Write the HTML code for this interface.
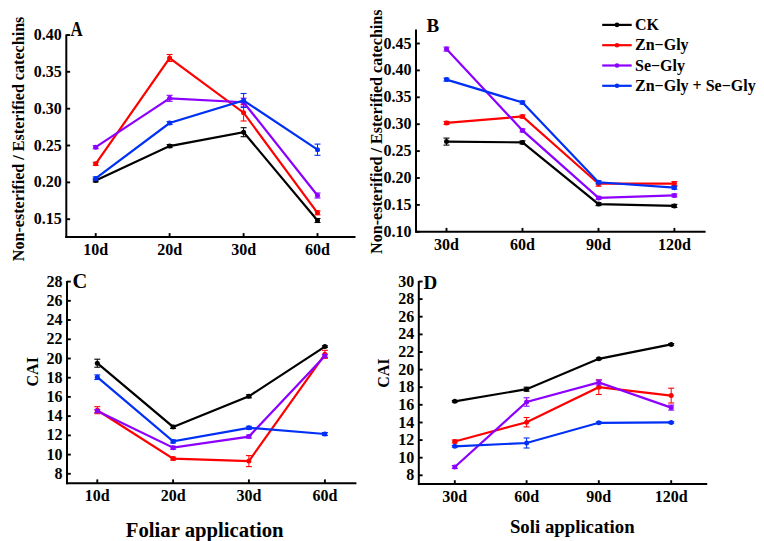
<!DOCTYPE html>
<html><head><meta charset="utf-8"><style>
html,body{margin:0;padding:0;background:#fff;width:764px;height:541px;overflow:hidden}
svg{display:block}
text{font-family:"Liberation Serif",serif;font-weight:bold;fill:#000}
.t{font-size:16px}
.L{font-size:19px}
.g{font-size:16px}
.y{font-size:16px}
.x{font-size:20px}
</style></head><body>
<svg width="764" height="541" viewBox="0 0 764 541">
<line x1="66.3" y1="34.5" x2="66.3" y2="238.0" stroke="#000" stroke-width="2.0"/>
<line x1="65.3" y1="237.0" x2="355.5" y2="237.0" stroke="#000" stroke-width="2.0"/>
<line x1="66.3" y1="35.0" x2="70.1" y2="35.0" stroke="#000" stroke-width="1.9"/>
<text x="61.8" y="40.0" text-anchor="end" class="t">0.40</text>
<line x1="66.3" y1="71.8" x2="70.1" y2="71.8" stroke="#000" stroke-width="1.9"/>
<text x="61.8" y="76.8" text-anchor="end" class="t">0.35</text>
<line x1="66.3" y1="108.7" x2="70.1" y2="108.7" stroke="#000" stroke-width="1.9"/>
<text x="61.8" y="113.7" text-anchor="end" class="t">0.30</text>
<line x1="66.3" y1="145.5" x2="70.1" y2="145.5" stroke="#000" stroke-width="1.9"/>
<text x="61.8" y="150.5" text-anchor="end" class="t">0.25</text>
<line x1="66.3" y1="182.4" x2="70.1" y2="182.4" stroke="#000" stroke-width="1.9"/>
<text x="61.8" y="187.4" text-anchor="end" class="t">0.20</text>
<line x1="66.3" y1="219.2" x2="70.1" y2="219.2" stroke="#000" stroke-width="1.9"/>
<text x="61.8" y="224.2" text-anchor="end" class="t">0.15</text>
<line x1="95.7" y1="237.0" x2="95.7" y2="233.1" stroke="#000" stroke-width="1.9"/>
<text x="95.7" y="255.0" text-anchor="middle" class="t">10d</text>
<line x1="169.6" y1="237.0" x2="169.6" y2="233.1" stroke="#000" stroke-width="1.9"/>
<text x="169.6" y="255.0" text-anchor="middle" class="t">20d</text>
<line x1="243.6" y1="237.0" x2="243.6" y2="233.1" stroke="#000" stroke-width="1.9"/>
<text x="243.6" y="255.0" text-anchor="middle" class="t">30d</text>
<line x1="317.5" y1="237.0" x2="317.5" y2="233.1" stroke="#000" stroke-width="1.9"/>
<text x="317.5" y="255.0" text-anchor="middle" class="t">60d</text>
<text transform="translate(70.5,35.9) scale(0.835,1)" class="L" style="font-size:20.2px">A</text>
<polyline points="95.7,180.4 169.6,146.1 243.6,132.2 317.5,220.5" fill="none" stroke="#000000" stroke-width="2.2" stroke-linejoin="miter"/>
<line x1="95.7" y1="178.9" x2="95.7" y2="181.9" stroke="#000000" stroke-width="1"/>
<line x1="92.7" y1="178.9" x2="98.7" y2="178.9" stroke="#000000" stroke-width="1.1"/>
<line x1="92.7" y1="181.9" x2="98.7" y2="181.9" stroke="#000000" stroke-width="1.1"/>
<circle cx="95.7" cy="180.4" r="2.5" fill="#000000"/>
<line x1="169.6" y1="144.6" x2="169.6" y2="147.6" stroke="#000000" stroke-width="1"/>
<line x1="166.6" y1="144.6" x2="172.6" y2="144.6" stroke="#000000" stroke-width="1.1"/>
<line x1="166.6" y1="147.6" x2="172.6" y2="147.6" stroke="#000000" stroke-width="1.1"/>
<circle cx="169.6" cy="146.1" r="2.5" fill="#000000"/>
<line x1="243.6" y1="127.7" x2="243.6" y2="136.7" stroke="#000000" stroke-width="1"/>
<line x1="240.6" y1="127.7" x2="246.6" y2="127.7" stroke="#000000" stroke-width="1.1"/>
<line x1="240.6" y1="136.7" x2="246.6" y2="136.7" stroke="#000000" stroke-width="1.1"/>
<circle cx="243.6" cy="132.2" r="2.5" fill="#000000"/>
<line x1="317.5" y1="218.5" x2="317.5" y2="222.5" stroke="#000000" stroke-width="1"/>
<line x1="314.5" y1="218.5" x2="320.5" y2="218.5" stroke="#000000" stroke-width="1.1"/>
<line x1="314.5" y1="222.5" x2="320.5" y2="222.5" stroke="#000000" stroke-width="1.1"/>
<circle cx="317.5" cy="220.5" r="2.5" fill="#000000"/>
<polyline points="95.7,163.8 169.6,58.0 243.6,112.7 317.5,212.8" fill="none" stroke="#ff0000" stroke-width="2.2" stroke-linejoin="miter"/>
<line x1="95.7" y1="162.3" x2="95.7" y2="165.3" stroke="#ff0000" stroke-width="1"/>
<line x1="92.7" y1="162.3" x2="98.7" y2="162.3" stroke="#ff0000" stroke-width="1.1"/>
<line x1="92.7" y1="165.3" x2="98.7" y2="165.3" stroke="#ff0000" stroke-width="1.1"/>
<circle cx="95.7" cy="163.8" r="2.5" fill="#ff0000"/>
<line x1="169.6" y1="54.5" x2="169.6" y2="61.5" stroke="#ff0000" stroke-width="1"/>
<line x1="166.6" y1="54.5" x2="172.6" y2="54.5" stroke="#ff0000" stroke-width="1.1"/>
<line x1="166.6" y1="61.5" x2="172.6" y2="61.5" stroke="#ff0000" stroke-width="1.1"/>
<circle cx="169.6" cy="58.0" r="2.5" fill="#ff0000"/>
<line x1="243.6" y1="104.4" x2="243.6" y2="121.0" stroke="#ff0000" stroke-width="1"/>
<line x1="240.6" y1="104.4" x2="246.6" y2="104.4" stroke="#ff0000" stroke-width="1.1"/>
<line x1="240.6" y1="121.0" x2="246.6" y2="121.0" stroke="#ff0000" stroke-width="1.1"/>
<circle cx="243.6" cy="112.7" r="2.5" fill="#ff0000"/>
<line x1="317.5" y1="210.8" x2="317.5" y2="214.8" stroke="#ff0000" stroke-width="1"/>
<line x1="314.5" y1="210.8" x2="320.5" y2="210.8" stroke="#ff0000" stroke-width="1.1"/>
<line x1="314.5" y1="214.8" x2="320.5" y2="214.8" stroke="#ff0000" stroke-width="1.1"/>
<circle cx="317.5" cy="212.8" r="2.5" fill="#ff0000"/>
<polyline points="95.7,147.2 169.6,98.3 243.6,102.2 317.5,195.5" fill="none" stroke="#8c00ff" stroke-width="2.2" stroke-linejoin="miter"/>
<line x1="95.7" y1="145.7" x2="95.7" y2="148.7" stroke="#8c00ff" stroke-width="1"/>
<line x1="92.7" y1="145.7" x2="98.7" y2="145.7" stroke="#8c00ff" stroke-width="1.1"/>
<line x1="92.7" y1="148.7" x2="98.7" y2="148.7" stroke="#8c00ff" stroke-width="1.1"/>
<circle cx="95.7" cy="147.2" r="2.5" fill="#8c00ff"/>
<line x1="169.6" y1="95.3" x2="169.6" y2="101.3" stroke="#8c00ff" stroke-width="1"/>
<line x1="166.6" y1="95.3" x2="172.6" y2="95.3" stroke="#8c00ff" stroke-width="1.1"/>
<line x1="166.6" y1="101.3" x2="172.6" y2="101.3" stroke="#8c00ff" stroke-width="1.1"/>
<circle cx="169.6" cy="98.3" r="2.5" fill="#8c00ff"/>
<line x1="243.6" y1="98.2" x2="243.6" y2="106.2" stroke="#8c00ff" stroke-width="1"/>
<line x1="240.6" y1="98.2" x2="246.6" y2="98.2" stroke="#8c00ff" stroke-width="1.1"/>
<line x1="240.6" y1="106.2" x2="246.6" y2="106.2" stroke="#8c00ff" stroke-width="1.1"/>
<circle cx="243.6" cy="102.2" r="2.5" fill="#8c00ff"/>
<line x1="317.5" y1="193.0" x2="317.5" y2="198.0" stroke="#8c00ff" stroke-width="1"/>
<line x1="314.5" y1="193.0" x2="320.5" y2="193.0" stroke="#8c00ff" stroke-width="1.1"/>
<line x1="314.5" y1="198.0" x2="320.5" y2="198.0" stroke="#8c00ff" stroke-width="1.1"/>
<circle cx="317.5" cy="195.5" r="2.5" fill="#8c00ff"/>
<polyline points="95.7,178.4 169.6,123.0 243.6,100.5 317.5,149.7" fill="none" stroke="#0030f5" stroke-width="2.2" stroke-linejoin="miter"/>
<line x1="95.7" y1="176.9" x2="95.7" y2="179.9" stroke="#0030f5" stroke-width="1"/>
<line x1="92.7" y1="176.9" x2="98.7" y2="176.9" stroke="#0030f5" stroke-width="1.1"/>
<line x1="92.7" y1="179.9" x2="98.7" y2="179.9" stroke="#0030f5" stroke-width="1.1"/>
<circle cx="95.7" cy="178.4" r="2.5" fill="#0030f5"/>
<line x1="169.6" y1="121.5" x2="169.6" y2="124.5" stroke="#0030f5" stroke-width="1"/>
<line x1="166.6" y1="121.5" x2="172.6" y2="121.5" stroke="#0030f5" stroke-width="1.1"/>
<line x1="166.6" y1="124.5" x2="172.6" y2="124.5" stroke="#0030f5" stroke-width="1.1"/>
<circle cx="169.6" cy="123.0" r="2.5" fill="#0030f5"/>
<line x1="243.6" y1="93.5" x2="243.6" y2="107.5" stroke="#0030f5" stroke-width="1"/>
<line x1="240.6" y1="93.5" x2="246.6" y2="93.5" stroke="#0030f5" stroke-width="1.1"/>
<line x1="240.6" y1="107.5" x2="246.6" y2="107.5" stroke="#0030f5" stroke-width="1.1"/>
<circle cx="243.6" cy="100.5" r="2.5" fill="#0030f5"/>
<line x1="317.5" y1="144.1" x2="317.5" y2="155.3" stroke="#0030f5" stroke-width="1"/>
<line x1="314.5" y1="144.1" x2="320.5" y2="144.1" stroke="#0030f5" stroke-width="1.1"/>
<line x1="314.5" y1="155.3" x2="320.5" y2="155.3" stroke="#0030f5" stroke-width="1.1"/>
<circle cx="317.5" cy="149.7" r="2.5" fill="#0030f5"/>
<line x1="416.0" y1="29.5" x2="416.0" y2="232.8" stroke="#000" stroke-width="2.0"/>
<line x1="415.5" y1="231.8" x2="705.6" y2="231.8" stroke="#000" stroke-width="2.0"/>
<line x1="416.0" y1="43.5" x2="419.8" y2="43.5" stroke="#000" stroke-width="1.9"/>
<text x="411.5" y="48.5" text-anchor="end" class="t">0.45</text>
<line x1="416.0" y1="70.4" x2="419.8" y2="70.4" stroke="#000" stroke-width="1.9"/>
<text x="411.5" y="75.4" text-anchor="end" class="t">0.40</text>
<line x1="416.0" y1="97.3" x2="419.8" y2="97.3" stroke="#000" stroke-width="1.9"/>
<text x="411.5" y="102.3" text-anchor="end" class="t">0.35</text>
<line x1="416.0" y1="124.2" x2="419.8" y2="124.2" stroke="#000" stroke-width="1.9"/>
<text x="411.5" y="129.2" text-anchor="end" class="t">0.30</text>
<line x1="416.0" y1="151.1" x2="419.8" y2="151.1" stroke="#000" stroke-width="1.9"/>
<text x="411.5" y="156.1" text-anchor="end" class="t">0.25</text>
<line x1="416.0" y1="178.0" x2="419.8" y2="178.0" stroke="#000" stroke-width="1.9"/>
<text x="411.5" y="183.0" text-anchor="end" class="t">0.20</text>
<line x1="416.0" y1="204.9" x2="419.8" y2="204.9" stroke="#000" stroke-width="1.9"/>
<text x="411.5" y="209.9" text-anchor="end" class="t">0.15</text>
<line x1="416.0" y1="231.8" x2="419.8" y2="231.8" stroke="#000" stroke-width="1.9"/>
<text x="411.5" y="236.8" text-anchor="end" class="t">0.10</text>
<line x1="446.5" y1="231.8" x2="446.5" y2="227.9" stroke="#000" stroke-width="1.9"/>
<text x="446.5" y="249.8" text-anchor="middle" class="t">30d</text>
<line x1="522.5" y1="231.8" x2="522.5" y2="227.9" stroke="#000" stroke-width="1.9"/>
<text x="522.5" y="249.8" text-anchor="middle" class="t">60d</text>
<line x1="598.5" y1="231.8" x2="598.5" y2="227.9" stroke="#000" stroke-width="1.9"/>
<text x="598.5" y="249.8" text-anchor="middle" class="t">90d</text>
<line x1="674.4" y1="231.8" x2="674.4" y2="227.9" stroke="#000" stroke-width="1.9"/>
<text x="674.4" y="249.8" text-anchor="middle" class="t">120d</text>
<text x="426.5" y="32.0" class="L" style="">B</text>
<polyline points="446.5,141.6 522.5,142.4 598.5,204.1 674.4,205.9" fill="none" stroke="#000000" stroke-width="2.2" stroke-linejoin="miter"/>
<line x1="446.5" y1="138.1" x2="446.5" y2="145.1" stroke="#000000" stroke-width="1"/>
<line x1="443.5" y1="138.1" x2="449.5" y2="138.1" stroke="#000000" stroke-width="1.1"/>
<line x1="443.5" y1="145.1" x2="449.5" y2="145.1" stroke="#000000" stroke-width="1.1"/>
<circle cx="446.5" cy="141.6" r="2.5" fill="#000000"/>
<line x1="522.5" y1="140.9" x2="522.5" y2="143.9" stroke="#000000" stroke-width="1"/>
<line x1="519.5" y1="140.9" x2="525.5" y2="140.9" stroke="#000000" stroke-width="1.1"/>
<line x1="519.5" y1="143.9" x2="525.5" y2="143.9" stroke="#000000" stroke-width="1.1"/>
<circle cx="522.5" cy="142.4" r="2.5" fill="#000000"/>
<line x1="598.5" y1="202.6" x2="598.5" y2="205.6" stroke="#000000" stroke-width="1"/>
<line x1="595.5" y1="202.6" x2="601.5" y2="202.6" stroke="#000000" stroke-width="1.1"/>
<line x1="595.5" y1="205.6" x2="601.5" y2="205.6" stroke="#000000" stroke-width="1.1"/>
<circle cx="598.5" cy="204.1" r="2.5" fill="#000000"/>
<line x1="674.4" y1="204.4" x2="674.4" y2="207.4" stroke="#000000" stroke-width="1"/>
<line x1="671.4" y1="204.4" x2="677.4" y2="204.4" stroke="#000000" stroke-width="1.1"/>
<line x1="671.4" y1="207.4" x2="677.4" y2="207.4" stroke="#000000" stroke-width="1.1"/>
<circle cx="674.4" cy="205.9" r="2.5" fill="#000000"/>
<polyline points="446.5,122.9 522.5,116.5 598.5,183.7 674.4,183.6" fill="none" stroke="#ff0000" stroke-width="2.2" stroke-linejoin="miter"/>
<line x1="446.5" y1="121.4" x2="446.5" y2="124.4" stroke="#ff0000" stroke-width="1"/>
<line x1="443.5" y1="121.4" x2="449.5" y2="121.4" stroke="#ff0000" stroke-width="1.1"/>
<line x1="443.5" y1="124.4" x2="449.5" y2="124.4" stroke="#ff0000" stroke-width="1.1"/>
<circle cx="446.5" cy="122.9" r="2.5" fill="#ff0000"/>
<line x1="522.5" y1="115.0" x2="522.5" y2="118.0" stroke="#ff0000" stroke-width="1"/>
<line x1="519.5" y1="115.0" x2="525.5" y2="115.0" stroke="#ff0000" stroke-width="1.1"/>
<line x1="519.5" y1="118.0" x2="525.5" y2="118.0" stroke="#ff0000" stroke-width="1.1"/>
<circle cx="522.5" cy="116.5" r="2.5" fill="#ff0000"/>
<line x1="598.5" y1="181.2" x2="598.5" y2="186.2" stroke="#ff0000" stroke-width="1"/>
<line x1="595.5" y1="181.2" x2="601.5" y2="181.2" stroke="#ff0000" stroke-width="1.1"/>
<line x1="595.5" y1="186.2" x2="601.5" y2="186.2" stroke="#ff0000" stroke-width="1.1"/>
<circle cx="598.5" cy="183.7" r="2.5" fill="#ff0000"/>
<line x1="674.4" y1="181.6" x2="674.4" y2="185.6" stroke="#ff0000" stroke-width="1"/>
<line x1="671.4" y1="181.6" x2="677.4" y2="181.6" stroke="#ff0000" stroke-width="1.1"/>
<line x1="671.4" y1="185.6" x2="677.4" y2="185.6" stroke="#ff0000" stroke-width="1.1"/>
<circle cx="674.4" cy="183.6" r="2.5" fill="#ff0000"/>
<polyline points="446.5,49.1 522.5,130.4 598.5,197.9 674.4,195.4" fill="none" stroke="#8c00ff" stroke-width="2.2" stroke-linejoin="miter"/>
<line x1="446.5" y1="47.1" x2="446.5" y2="51.1" stroke="#8c00ff" stroke-width="1"/>
<line x1="443.5" y1="47.1" x2="449.5" y2="47.1" stroke="#8c00ff" stroke-width="1.1"/>
<line x1="443.5" y1="51.1" x2="449.5" y2="51.1" stroke="#8c00ff" stroke-width="1.1"/>
<circle cx="446.5" cy="49.1" r="2.5" fill="#8c00ff"/>
<line x1="522.5" y1="128.9" x2="522.5" y2="131.9" stroke="#8c00ff" stroke-width="1"/>
<line x1="519.5" y1="128.9" x2="525.5" y2="128.9" stroke="#8c00ff" stroke-width="1.1"/>
<line x1="519.5" y1="131.9" x2="525.5" y2="131.9" stroke="#8c00ff" stroke-width="1.1"/>
<circle cx="522.5" cy="130.4" r="2.5" fill="#8c00ff"/>
<line x1="598.5" y1="196.4" x2="598.5" y2="199.4" stroke="#8c00ff" stroke-width="1"/>
<line x1="595.5" y1="196.4" x2="601.5" y2="196.4" stroke="#8c00ff" stroke-width="1.1"/>
<line x1="595.5" y1="199.4" x2="601.5" y2="199.4" stroke="#8c00ff" stroke-width="1.1"/>
<circle cx="598.5" cy="197.9" r="2.5" fill="#8c00ff"/>
<line x1="674.4" y1="193.9" x2="674.4" y2="196.9" stroke="#8c00ff" stroke-width="1"/>
<line x1="671.4" y1="193.9" x2="677.4" y2="193.9" stroke="#8c00ff" stroke-width="1.1"/>
<line x1="671.4" y1="196.9" x2="677.4" y2="196.9" stroke="#8c00ff" stroke-width="1.1"/>
<circle cx="674.4" cy="195.4" r="2.5" fill="#8c00ff"/>
<polyline points="446.5,79.6 522.5,102.5 598.5,182.3 674.4,187.7" fill="none" stroke="#0030f5" stroke-width="2.2" stroke-linejoin="miter"/>
<line x1="446.5" y1="78.1" x2="446.5" y2="81.1" stroke="#0030f5" stroke-width="1"/>
<line x1="443.5" y1="78.1" x2="449.5" y2="78.1" stroke="#0030f5" stroke-width="1.1"/>
<line x1="443.5" y1="81.1" x2="449.5" y2="81.1" stroke="#0030f5" stroke-width="1.1"/>
<circle cx="446.5" cy="79.6" r="2.5" fill="#0030f5"/>
<line x1="522.5" y1="101.0" x2="522.5" y2="104.0" stroke="#0030f5" stroke-width="1"/>
<line x1="519.5" y1="101.0" x2="525.5" y2="101.0" stroke="#0030f5" stroke-width="1.1"/>
<line x1="519.5" y1="104.0" x2="525.5" y2="104.0" stroke="#0030f5" stroke-width="1.1"/>
<circle cx="522.5" cy="102.5" r="2.5" fill="#0030f5"/>
<line x1="598.5" y1="180.8" x2="598.5" y2="183.8" stroke="#0030f5" stroke-width="1"/>
<line x1="595.5" y1="180.8" x2="601.5" y2="180.8" stroke="#0030f5" stroke-width="1.1"/>
<line x1="595.5" y1="183.8" x2="601.5" y2="183.8" stroke="#0030f5" stroke-width="1.1"/>
<circle cx="598.5" cy="182.3" r="2.5" fill="#0030f5"/>
<line x1="674.4" y1="186.2" x2="674.4" y2="189.2" stroke="#0030f5" stroke-width="1"/>
<line x1="671.4" y1="186.2" x2="677.4" y2="186.2" stroke="#0030f5" stroke-width="1.1"/>
<line x1="671.4" y1="189.2" x2="677.4" y2="189.2" stroke="#0030f5" stroke-width="1.1"/>
<circle cx="674.4" cy="187.7" r="2.5" fill="#0030f5"/>
<line x1="67.0" y1="281.0" x2="67.0" y2="484.3" stroke="#000" stroke-width="2.0"/>
<line x1="66.2" y1="483.3" x2="356.4" y2="483.3" stroke="#000" stroke-width="2.0"/>
<line x1="67.0" y1="281.6" x2="70.8" y2="281.6" stroke="#000" stroke-width="1.9"/>
<text x="62.5" y="286.6" text-anchor="end" class="t">28</text>
<line x1="67.0" y1="300.8" x2="70.8" y2="300.8" stroke="#000" stroke-width="1.9"/>
<text x="62.5" y="305.8" text-anchor="end" class="t">26</text>
<line x1="67.0" y1="320.0" x2="70.8" y2="320.0" stroke="#000" stroke-width="1.9"/>
<text x="62.5" y="325.0" text-anchor="end" class="t">24</text>
<line x1="67.0" y1="339.3" x2="70.8" y2="339.3" stroke="#000" stroke-width="1.9"/>
<text x="62.5" y="344.3" text-anchor="end" class="t">22</text>
<line x1="67.0" y1="358.5" x2="70.8" y2="358.5" stroke="#000" stroke-width="1.9"/>
<text x="62.5" y="363.5" text-anchor="end" class="t">20</text>
<line x1="67.0" y1="377.7" x2="70.8" y2="377.7" stroke="#000" stroke-width="1.9"/>
<text x="62.5" y="382.7" text-anchor="end" class="t">18</text>
<line x1="67.0" y1="396.9" x2="70.8" y2="396.9" stroke="#000" stroke-width="1.9"/>
<text x="62.5" y="401.9" text-anchor="end" class="t">16</text>
<line x1="67.0" y1="416.1" x2="70.8" y2="416.1" stroke="#000" stroke-width="1.9"/>
<text x="62.5" y="421.1" text-anchor="end" class="t">14</text>
<line x1="67.0" y1="435.4" x2="70.8" y2="435.4" stroke="#000" stroke-width="1.9"/>
<text x="62.5" y="440.4" text-anchor="end" class="t">12</text>
<line x1="67.0" y1="454.6" x2="70.8" y2="454.6" stroke="#000" stroke-width="1.9"/>
<text x="62.5" y="459.6" text-anchor="end" class="t">10</text>
<line x1="67.0" y1="473.8" x2="70.8" y2="473.8" stroke="#000" stroke-width="1.9"/>
<text x="62.5" y="478.8" text-anchor="end" class="t">8</text>
<line x1="97.3" y1="483.3" x2="97.3" y2="479.4" stroke="#000" stroke-width="1.9"/>
<text x="97.3" y="501.0" text-anchor="middle" class="t">10d</text>
<line x1="173.1" y1="483.3" x2="173.1" y2="479.4" stroke="#000" stroke-width="1.9"/>
<text x="173.1" y="501.0" text-anchor="middle" class="t">20d</text>
<line x1="248.9" y1="483.3" x2="248.9" y2="479.4" stroke="#000" stroke-width="1.9"/>
<text x="248.9" y="501.0" text-anchor="middle" class="t">30d</text>
<line x1="324.9" y1="483.3" x2="324.9" y2="479.4" stroke="#000" stroke-width="1.9"/>
<text x="324.9" y="501.0" text-anchor="middle" class="t">60d</text>
<text x="72.6" y="287.9" class="L" style="font-size:20.4px">C</text>
<polyline points="97.3,363.2 173.1,426.9 248.9,396.3 324.9,346.6" fill="none" stroke="#000000" stroke-width="2.2" stroke-linejoin="miter"/>
<line x1="97.3" y1="359.2" x2="97.3" y2="367.2" stroke="#000000" stroke-width="1"/>
<line x1="94.3" y1="359.2" x2="100.3" y2="359.2" stroke="#000000" stroke-width="1.1"/>
<line x1="94.3" y1="367.2" x2="100.3" y2="367.2" stroke="#000000" stroke-width="1.1"/>
<circle cx="97.3" cy="363.2" r="2.5" fill="#000000"/>
<line x1="173.1" y1="425.4" x2="173.1" y2="428.4" stroke="#000000" stroke-width="1"/>
<line x1="170.1" y1="425.4" x2="176.1" y2="425.4" stroke="#000000" stroke-width="1.1"/>
<line x1="170.1" y1="428.4" x2="176.1" y2="428.4" stroke="#000000" stroke-width="1.1"/>
<circle cx="173.1" cy="426.9" r="2.5" fill="#000000"/>
<line x1="248.9" y1="394.8" x2="248.9" y2="397.8" stroke="#000000" stroke-width="1"/>
<line x1="245.9" y1="394.8" x2="251.9" y2="394.8" stroke="#000000" stroke-width="1.1"/>
<line x1="245.9" y1="397.8" x2="251.9" y2="397.8" stroke="#000000" stroke-width="1.1"/>
<circle cx="248.9" cy="396.3" r="2.5" fill="#000000"/>
<line x1="324.9" y1="345.8" x2="324.9" y2="347.4" stroke="#000000" stroke-width="1"/>
<line x1="321.9" y1="345.8" x2="327.9" y2="345.8" stroke="#000000" stroke-width="1.1"/>
<line x1="321.9" y1="347.4" x2="327.9" y2="347.4" stroke="#000000" stroke-width="1.1"/>
<circle cx="324.9" cy="346.6" r="2.5" fill="#000000"/>
<polyline points="97.3,410.2 173.1,458.6 248.9,461.1 324.9,354.3" fill="none" stroke="#ff0000" stroke-width="2.2" stroke-linejoin="miter"/>
<line x1="97.3" y1="406.7" x2="97.3" y2="413.7" stroke="#ff0000" stroke-width="1"/>
<line x1="94.3" y1="406.7" x2="100.3" y2="406.7" stroke="#ff0000" stroke-width="1.1"/>
<line x1="94.3" y1="413.7" x2="100.3" y2="413.7" stroke="#ff0000" stroke-width="1.1"/>
<circle cx="97.3" cy="410.2" r="2.5" fill="#ff0000"/>
<line x1="173.1" y1="457.1" x2="173.1" y2="460.1" stroke="#ff0000" stroke-width="1"/>
<line x1="170.1" y1="457.1" x2="176.1" y2="457.1" stroke="#ff0000" stroke-width="1.1"/>
<line x1="170.1" y1="460.1" x2="176.1" y2="460.1" stroke="#ff0000" stroke-width="1.1"/>
<circle cx="173.1" cy="458.6" r="2.5" fill="#ff0000"/>
<line x1="248.9" y1="455.6" x2="248.9" y2="466.6" stroke="#ff0000" stroke-width="1"/>
<line x1="245.9" y1="455.6" x2="251.9" y2="455.6" stroke="#ff0000" stroke-width="1.1"/>
<line x1="245.9" y1="466.6" x2="251.9" y2="466.6" stroke="#ff0000" stroke-width="1.1"/>
<circle cx="248.9" cy="461.1" r="2.5" fill="#ff0000"/>
<line x1="324.9" y1="350.3" x2="324.9" y2="358.3" stroke="#ff0000" stroke-width="1"/>
<line x1="321.9" y1="350.3" x2="327.9" y2="350.3" stroke="#ff0000" stroke-width="1.1"/>
<line x1="321.9" y1="358.3" x2="327.9" y2="358.3" stroke="#ff0000" stroke-width="1.1"/>
<circle cx="324.9" cy="354.3" r="2.5" fill="#ff0000"/>
<polyline points="97.3,411.0 173.1,447.7 248.9,436.6 324.9,355.9" fill="none" stroke="#8c00ff" stroke-width="2.2" stroke-linejoin="miter"/>
<line x1="97.3" y1="409.5" x2="97.3" y2="412.5" stroke="#8c00ff" stroke-width="1"/>
<line x1="94.3" y1="409.5" x2="100.3" y2="409.5" stroke="#8c00ff" stroke-width="1.1"/>
<line x1="94.3" y1="412.5" x2="100.3" y2="412.5" stroke="#8c00ff" stroke-width="1.1"/>
<circle cx="97.3" cy="411.0" r="2.5" fill="#8c00ff"/>
<line x1="173.1" y1="446.2" x2="173.1" y2="449.2" stroke="#8c00ff" stroke-width="1"/>
<line x1="170.1" y1="446.2" x2="176.1" y2="446.2" stroke="#8c00ff" stroke-width="1.1"/>
<line x1="170.1" y1="449.2" x2="176.1" y2="449.2" stroke="#8c00ff" stroke-width="1.1"/>
<circle cx="173.1" cy="447.7" r="2.5" fill="#8c00ff"/>
<line x1="248.9" y1="435.1" x2="248.9" y2="438.1" stroke="#8c00ff" stroke-width="1"/>
<line x1="245.9" y1="435.1" x2="251.9" y2="435.1" stroke="#8c00ff" stroke-width="1.1"/>
<line x1="245.9" y1="438.1" x2="251.9" y2="438.1" stroke="#8c00ff" stroke-width="1.1"/>
<circle cx="248.9" cy="436.6" r="2.5" fill="#8c00ff"/>
<line x1="324.9" y1="354.4" x2="324.9" y2="357.4" stroke="#8c00ff" stroke-width="1"/>
<line x1="321.9" y1="354.4" x2="327.9" y2="354.4" stroke="#8c00ff" stroke-width="1.1"/>
<line x1="321.9" y1="357.4" x2="327.9" y2="357.4" stroke="#8c00ff" stroke-width="1.1"/>
<circle cx="324.9" cy="355.9" r="2.5" fill="#8c00ff"/>
<polyline points="97.3,377.2 173.1,441.4 248.9,427.8 324.9,434.0" fill="none" stroke="#0030f5" stroke-width="2.2" stroke-linejoin="miter"/>
<line x1="97.3" y1="374.9" x2="97.3" y2="379.5" stroke="#0030f5" stroke-width="1"/>
<line x1="94.3" y1="374.9" x2="100.3" y2="374.9" stroke="#0030f5" stroke-width="1.1"/>
<line x1="94.3" y1="379.5" x2="100.3" y2="379.5" stroke="#0030f5" stroke-width="1.1"/>
<circle cx="97.3" cy="377.2" r="2.5" fill="#0030f5"/>
<line x1="173.1" y1="439.9" x2="173.1" y2="442.9" stroke="#0030f5" stroke-width="1"/>
<line x1="170.1" y1="439.9" x2="176.1" y2="439.9" stroke="#0030f5" stroke-width="1.1"/>
<line x1="170.1" y1="442.9" x2="176.1" y2="442.9" stroke="#0030f5" stroke-width="1.1"/>
<circle cx="173.1" cy="441.4" r="2.5" fill="#0030f5"/>
<line x1="248.9" y1="426.3" x2="248.9" y2="429.3" stroke="#0030f5" stroke-width="1"/>
<line x1="245.9" y1="426.3" x2="251.9" y2="426.3" stroke="#0030f5" stroke-width="1.1"/>
<line x1="245.9" y1="429.3" x2="251.9" y2="429.3" stroke="#0030f5" stroke-width="1.1"/>
<circle cx="248.9" cy="427.8" r="2.5" fill="#0030f5"/>
<line x1="324.9" y1="432.5" x2="324.9" y2="435.5" stroke="#0030f5" stroke-width="1"/>
<line x1="321.9" y1="432.5" x2="327.9" y2="432.5" stroke="#0030f5" stroke-width="1.1"/>
<line x1="321.9" y1="435.5" x2="327.9" y2="435.5" stroke="#0030f5" stroke-width="1.1"/>
<circle cx="324.9" cy="434.0" r="2.5" fill="#0030f5"/>
<line x1="418.8" y1="281.0" x2="418.8" y2="485.1" stroke="#000" stroke-width="2.0"/>
<line x1="418.0" y1="484.1" x2="707.2" y2="484.1" stroke="#000" stroke-width="2.0"/>
<line x1="418.8" y1="281.5" x2="422.6" y2="281.5" stroke="#000" stroke-width="1.9"/>
<text x="414.3" y="286.5" text-anchor="end" class="t">30</text>
<line x1="418.8" y1="299.1" x2="422.6" y2="299.1" stroke="#000" stroke-width="1.9"/>
<text x="414.3" y="304.1" text-anchor="end" class="t">28</text>
<line x1="418.8" y1="316.7" x2="422.6" y2="316.7" stroke="#000" stroke-width="1.9"/>
<text x="414.3" y="321.7" text-anchor="end" class="t">26</text>
<line x1="418.8" y1="334.4" x2="422.6" y2="334.4" stroke="#000" stroke-width="1.9"/>
<text x="414.3" y="339.4" text-anchor="end" class="t">24</text>
<line x1="418.8" y1="352.0" x2="422.6" y2="352.0" stroke="#000" stroke-width="1.9"/>
<text x="414.3" y="357.0" text-anchor="end" class="t">22</text>
<line x1="418.8" y1="369.6" x2="422.6" y2="369.6" stroke="#000" stroke-width="1.9"/>
<text x="414.3" y="374.6" text-anchor="end" class="t">20</text>
<line x1="418.8" y1="387.2" x2="422.6" y2="387.2" stroke="#000" stroke-width="1.9"/>
<text x="414.3" y="392.2" text-anchor="end" class="t">18</text>
<line x1="418.8" y1="404.8" x2="422.6" y2="404.8" stroke="#000" stroke-width="1.9"/>
<text x="414.3" y="409.8" text-anchor="end" class="t">16</text>
<line x1="418.8" y1="422.5" x2="422.6" y2="422.5" stroke="#000" stroke-width="1.9"/>
<text x="414.3" y="427.5" text-anchor="end" class="t">14</text>
<line x1="418.8" y1="440.1" x2="422.6" y2="440.1" stroke="#000" stroke-width="1.9"/>
<text x="414.3" y="445.1" text-anchor="end" class="t">12</text>
<line x1="418.8" y1="457.7" x2="422.6" y2="457.7" stroke="#000" stroke-width="1.9"/>
<text x="414.3" y="462.7" text-anchor="end" class="t">10</text>
<line x1="418.8" y1="475.3" x2="422.6" y2="475.3" stroke="#000" stroke-width="1.9"/>
<text x="414.3" y="480.3" text-anchor="end" class="t">8</text>
<line x1="454.8" y1="484.1" x2="454.8" y2="480.2" stroke="#000" stroke-width="1.9"/>
<text x="454.8" y="501.8" text-anchor="middle" class="t">30d</text>
<line x1="526.6" y1="484.1" x2="526.6" y2="480.2" stroke="#000" stroke-width="1.9"/>
<text x="526.6" y="501.8" text-anchor="middle" class="t">60d</text>
<line x1="598.8" y1="484.1" x2="598.8" y2="480.2" stroke="#000" stroke-width="1.9"/>
<text x="598.8" y="501.8" text-anchor="middle" class="t">90d</text>
<line x1="671.2" y1="484.1" x2="671.2" y2="480.2" stroke="#000" stroke-width="1.9"/>
<text x="671.2" y="501.8" text-anchor="middle" class="t">120d</text>
<text x="423.6" y="288.8" class="L" style="">D</text>
<polyline points="454.8,401.3 526.6,389.2 598.8,358.8 671.2,344.4" fill="none" stroke="#000000" stroke-width="2.2" stroke-linejoin="miter"/>
<line x1="454.8" y1="400.5" x2="454.8" y2="402.1" stroke="#000000" stroke-width="1"/>
<line x1="451.8" y1="400.5" x2="457.8" y2="400.5" stroke="#000000" stroke-width="1.1"/>
<line x1="451.8" y1="402.1" x2="457.8" y2="402.1" stroke="#000000" stroke-width="1.1"/>
<circle cx="454.8" cy="401.3" r="2.5" fill="#000000"/>
<line x1="526.6" y1="387.2" x2="526.6" y2="391.2" stroke="#000000" stroke-width="1"/>
<line x1="523.6" y1="387.2" x2="529.6" y2="387.2" stroke="#000000" stroke-width="1.1"/>
<line x1="523.6" y1="391.2" x2="529.6" y2="391.2" stroke="#000000" stroke-width="1.1"/>
<circle cx="526.6" cy="389.2" r="2.5" fill="#000000"/>
<line x1="598.8" y1="358.0" x2="598.8" y2="359.6" stroke="#000000" stroke-width="1"/>
<line x1="595.8" y1="358.0" x2="601.8" y2="358.0" stroke="#000000" stroke-width="1.1"/>
<line x1="595.8" y1="359.6" x2="601.8" y2="359.6" stroke="#000000" stroke-width="1.1"/>
<circle cx="598.8" cy="358.8" r="2.5" fill="#000000"/>
<line x1="671.2" y1="343.6" x2="671.2" y2="345.2" stroke="#000000" stroke-width="1"/>
<line x1="668.2" y1="343.6" x2="674.2" y2="343.6" stroke="#000000" stroke-width="1.1"/>
<line x1="668.2" y1="345.2" x2="674.2" y2="345.2" stroke="#000000" stroke-width="1.1"/>
<circle cx="671.2" cy="344.4" r="2.5" fill="#000000"/>
<polyline points="454.8,441.5 526.6,422.2 598.8,387.2 671.2,395.6" fill="none" stroke="#ff0000" stroke-width="2.2" stroke-linejoin="miter"/>
<line x1="454.8" y1="440.0" x2="454.8" y2="443.0" stroke="#ff0000" stroke-width="1"/>
<line x1="451.8" y1="440.0" x2="457.8" y2="440.0" stroke="#ff0000" stroke-width="1.1"/>
<line x1="451.8" y1="443.0" x2="457.8" y2="443.0" stroke="#ff0000" stroke-width="1.1"/>
<circle cx="454.8" cy="441.5" r="2.5" fill="#ff0000"/>
<line x1="526.6" y1="417.5" x2="526.6" y2="426.9" stroke="#ff0000" stroke-width="1"/>
<line x1="523.6" y1="417.5" x2="529.6" y2="417.5" stroke="#ff0000" stroke-width="1.1"/>
<line x1="523.6" y1="426.9" x2="529.6" y2="426.9" stroke="#ff0000" stroke-width="1.1"/>
<circle cx="526.6" cy="422.2" r="2.5" fill="#ff0000"/>
<line x1="598.8" y1="379.9" x2="598.8" y2="394.5" stroke="#ff0000" stroke-width="1"/>
<line x1="595.8" y1="379.9" x2="601.8" y2="379.9" stroke="#ff0000" stroke-width="1.1"/>
<line x1="595.8" y1="394.5" x2="601.8" y2="394.5" stroke="#ff0000" stroke-width="1.1"/>
<circle cx="598.8" cy="387.2" r="2.5" fill="#ff0000"/>
<line x1="671.2" y1="388.2" x2="671.2" y2="403.0" stroke="#ff0000" stroke-width="1"/>
<line x1="668.2" y1="388.2" x2="674.2" y2="388.2" stroke="#ff0000" stroke-width="1.1"/>
<line x1="668.2" y1="403.0" x2="674.2" y2="403.0" stroke="#ff0000" stroke-width="1.1"/>
<circle cx="671.2" cy="395.6" r="2.5" fill="#ff0000"/>
<polyline points="454.8,467.0 526.6,402.0 598.8,382.5 671.2,407.6" fill="none" stroke="#8c00ff" stroke-width="2.2" stroke-linejoin="miter"/>
<line x1="454.8" y1="465.5" x2="454.8" y2="468.5" stroke="#8c00ff" stroke-width="1"/>
<line x1="451.8" y1="465.5" x2="457.8" y2="465.5" stroke="#8c00ff" stroke-width="1.1"/>
<line x1="451.8" y1="468.5" x2="457.8" y2="468.5" stroke="#8c00ff" stroke-width="1.1"/>
<circle cx="454.8" cy="467.0" r="2.5" fill="#8c00ff"/>
<line x1="526.6" y1="397.8" x2="526.6" y2="406.2" stroke="#8c00ff" stroke-width="1"/>
<line x1="523.6" y1="397.8" x2="529.6" y2="397.8" stroke="#8c00ff" stroke-width="1.1"/>
<line x1="523.6" y1="406.2" x2="529.6" y2="406.2" stroke="#8c00ff" stroke-width="1.1"/>
<circle cx="526.6" cy="402.0" r="2.5" fill="#8c00ff"/>
<line x1="598.8" y1="380.0" x2="598.8" y2="385.0" stroke="#8c00ff" stroke-width="1"/>
<line x1="595.8" y1="380.0" x2="601.8" y2="380.0" stroke="#8c00ff" stroke-width="1.1"/>
<line x1="595.8" y1="385.0" x2="601.8" y2="385.0" stroke="#8c00ff" stroke-width="1.1"/>
<circle cx="598.8" cy="382.5" r="2.5" fill="#8c00ff"/>
<line x1="671.2" y1="405.1" x2="671.2" y2="410.1" stroke="#8c00ff" stroke-width="1"/>
<line x1="668.2" y1="405.1" x2="674.2" y2="405.1" stroke="#8c00ff" stroke-width="1.1"/>
<line x1="668.2" y1="410.1" x2="674.2" y2="410.1" stroke="#8c00ff" stroke-width="1.1"/>
<circle cx="671.2" cy="407.6" r="2.5" fill="#8c00ff"/>
<polyline points="454.8,446.3 526.6,443.0 598.8,422.8 671.2,422.4" fill="none" stroke="#0030f5" stroke-width="2.2" stroke-linejoin="miter"/>
<line x1="454.8" y1="445.5" x2="454.8" y2="447.1" stroke="#0030f5" stroke-width="1"/>
<line x1="451.8" y1="445.5" x2="457.8" y2="445.5" stroke="#0030f5" stroke-width="1.1"/>
<line x1="451.8" y1="447.1" x2="457.8" y2="447.1" stroke="#0030f5" stroke-width="1.1"/>
<circle cx="454.8" cy="446.3" r="2.5" fill="#0030f5"/>
<line x1="526.6" y1="438.0" x2="526.6" y2="448.0" stroke="#0030f5" stroke-width="1"/>
<line x1="523.6" y1="438.0" x2="529.6" y2="438.0" stroke="#0030f5" stroke-width="1.1"/>
<line x1="523.6" y1="448.0" x2="529.6" y2="448.0" stroke="#0030f5" stroke-width="1.1"/>
<circle cx="526.6" cy="443.0" r="2.5" fill="#0030f5"/>
<line x1="598.8" y1="422.0" x2="598.8" y2="423.6" stroke="#0030f5" stroke-width="1"/>
<line x1="595.8" y1="422.0" x2="601.8" y2="422.0" stroke="#0030f5" stroke-width="1.1"/>
<line x1="595.8" y1="423.6" x2="601.8" y2="423.6" stroke="#0030f5" stroke-width="1.1"/>
<circle cx="598.8" cy="422.8" r="2.5" fill="#0030f5"/>
<line x1="671.2" y1="421.6" x2="671.2" y2="423.2" stroke="#0030f5" stroke-width="1"/>
<line x1="668.2" y1="421.6" x2="674.2" y2="421.6" stroke="#0030f5" stroke-width="1.1"/>
<line x1="668.2" y1="423.2" x2="674.2" y2="423.2" stroke="#0030f5" stroke-width="1.1"/>
<circle cx="671.2" cy="422.4" r="2.5" fill="#0030f5"/>
<line x1="602.2" y1="24.9" x2="631.7" y2="24.9" stroke="#000000" stroke-width="2.2"/>
<circle cx="617" cy="24.9" r="2.3" fill="#000000"/>
<text x="635.0" y="29.9" class="g">CK</text>
<line x1="602.2" y1="45.2" x2="631.7" y2="45.2" stroke="#ff0000" stroke-width="2.2"/>
<circle cx="617" cy="45.2" r="2.3" fill="#ff0000"/>
<text x="635.0" y="50.2" class="g">Zn−Gly</text>
<line x1="602.2" y1="65.5" x2="631.7" y2="65.5" stroke="#8c00ff" stroke-width="2.2"/>
<circle cx="617" cy="65.5" r="2.3" fill="#8c00ff"/>
<text x="635.0" y="70.5" class="g">Se−Gly</text>
<line x1="602.2" y1="85.8" x2="631.7" y2="85.8" stroke="#0030f5" stroke-width="2.2"/>
<circle cx="617" cy="85.8" r="2.3" fill="#0030f5"/>
<text x="635.0" y="90.8" class="g">Zn−Gly + Se−Gly</text>
<text transform="translate(23.7,138.9) rotate(-90)" text-anchor="middle" class="y" style="font-size:16.1px">Non-esterified / Esterified catechins</text>
<text transform="translate(381.5,131.7) rotate(-90)" text-anchor="middle" class="y" style="font-size:16.1px">Non-esterified / Esterified catechins</text>
<text transform="translate(38.1,371.8) rotate(-90)" text-anchor="middle" class="y">CAI</text>
<text transform="translate(389.4,373.1) rotate(-90)" text-anchor="middle" class="y">CAI</text>
<text x="204.7" y="536.5" text-anchor="middle" class="x" style="font-size:20.7px">Foliar application</text>
<text x="572.3" y="532.6" text-anchor="middle" class="x" style="font-size:18.8px">Soli application</text>
</svg>
</body></html>
